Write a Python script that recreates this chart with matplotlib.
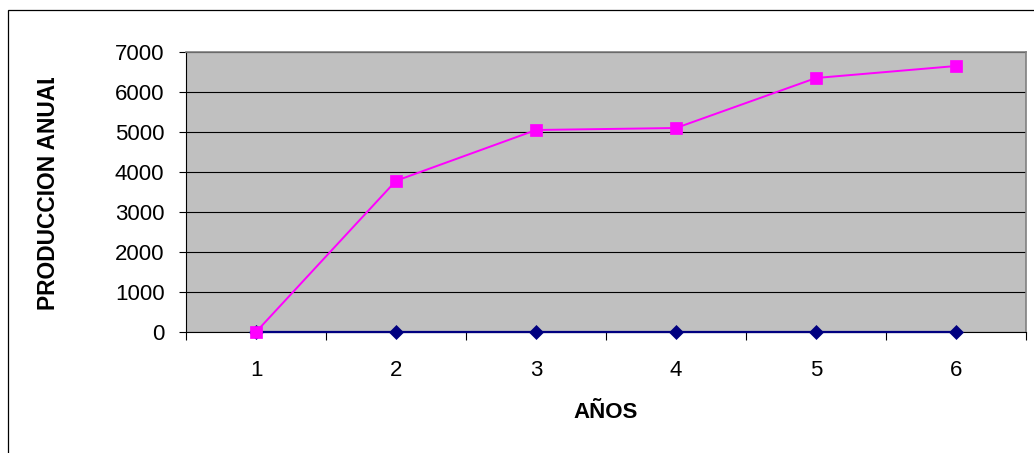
import matplotlib
matplotlib.use("Agg")
import matplotlib.pyplot as plt
from matplotlib.patches import Rectangle
from matplotlib.transforms import Bbox

# ---------------- datos ----------------
anios = [1, 2, 3, 4, 5, 6]
produccion = [0, 3780, 5050, 5100, 6350, 6650]
serie_base = [0, 0, 0, 0, 0, 0]
y_ticks = [0, 1000, 2000, 3000, 4000, 5000, 6000, 7000]

W, H = 1034, 453
plt.rcParams["font.family"] = ["Liberation Sans", "DejaVu Sans"]

fig = plt.figure(figsize=(W / 100, H / 100), dpi=100)
fig.patch.set_facecolor("white")

# marco exterior (sale del recorte por la derecha y por abajo)
fig.patches.append(Rectangle((8 / W, -0.2), 2.0, 1.2 - 10 / H, transform=fig.transFigure,
                             fill=False, edgecolor="black", linewidth=0.9))

ax = fig.add_axes([186 / W, (H - 332) / H, 840 / W, 280 / H])
ax.set_facecolor("#C0C0C0")

ax.plot(anios, serie_base, "-D", color="#000080", lw=1.6, ms=7.3, mew=0.5, clip_on=False, zorder=3)
ax.plot(anios, produccion, "-s", color="#FF00FF", lw=1.4, ms=9.3, mew=0.5, clip_on=False, zorder=4)

ax.set_xlim(0.5, 6.5)
ax.set_ylim(0, 7000)
ax.set_yticks(y_ticks)
ax.set_xticks([x - 0.5 for x in anios] + [anios[-1] + 0.5])
ax.set_xticklabels([])
ax.set_xticks(anios, minor=True)
ax.set_xticklabels([str(a) for a in anios], minor=True)
ax.tick_params(axis="x", which="major", direction="out", length=6, width=0.8)
ax.tick_params(axis="x", which="minor", length=0, pad=20, labelsize=16)
ax.tick_params(axis="y", direction="out", length=5, width=0.8, pad=10.5, labelsize=16)

ax.grid(axis="y", color="black", lw=0.8)
ax.set_axisbelow(True)
for s in ("top", "right"):
    ax.spines[s].set_color("#808080")
    ax.spines[s].set_linewidth(1.2)
for s in ("left", "bottom"):
    ax.spines[s].set_color("black")
    ax.spines[s].set_linewidth(0.8)

fig.text(606 / W, 1 - 412 / H, "AÑOS", ha="center", va="center", fontsize=16, fontweight="bold")

# rótulo del eje Y, recortado arriba como en el original
yl = fig.text(48.5 / W, 1 - 310 / H, "PRODUCCION ANUAL", rotation=90, ha="center", va="bottom",
              fontsize=16.4, fontweight="bold")
yl.set_clip_box(Bbox.from_extents(0, 0, W, H - 78))
yl.set_clip_on(True)

fig.savefig("out.png", dpi=100)
